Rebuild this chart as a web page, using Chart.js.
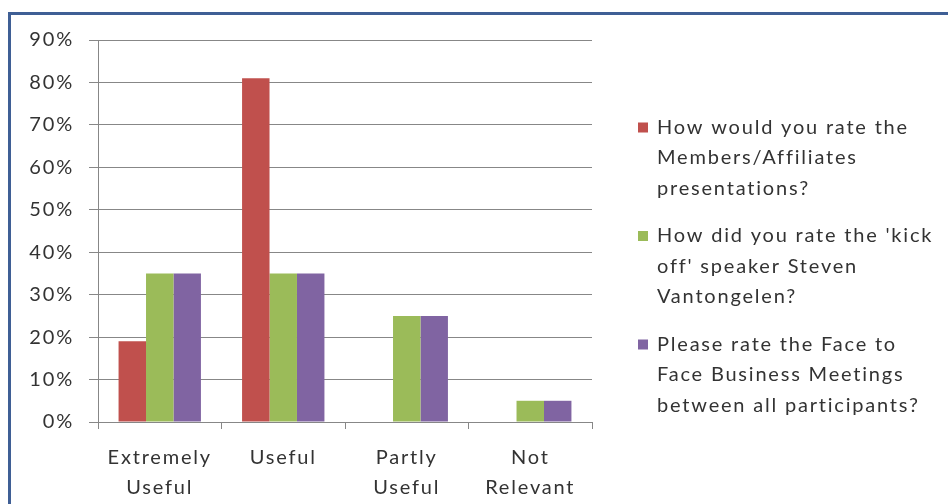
<!DOCTYPE html>
<html>
<head>
<meta charset="utf-8">
<script src="https://cdn.jsdelivr.net/npm/chart.js@4/dist/chart.umd.min.js"></script>
<style>
  html, body { margin: 0; padding: 0; background: #fff; overflow: hidden; }
  #wrap { position: relative; width: 948px; height: 504px; }
  #chart { position: absolute; left: 0; top: 0; }
  #frame {
    position: absolute; left: 8px; top: 12px; width: 2000px; height: 2000px;
    border-top: 3px solid #3F5F95; border-left: 3px solid #3F5F95;
    pointer-events: none;
  }
</style>
</head>
<body>
<div id="wrap">
  <canvas id="chart" width="948" height="504"></canvas>
  <div id="frame"></div>
</div>
<script>
// survey answers, share of respondents in %
const categories = [['Extremely', 'Useful'], 'Useful', ['Partly', 'Useful'], ['Not', 'Relevant']];
const membersValues = [19, 81, 0, 0];
const speakerValues = [35, 35, 25, 5];
const meetingsValues = [35, 35, 25, 5];

const membersLabel = ['How would you rate the', 'Members/Affiliates', 'presentations?'];
const speakerLabel = ["How did you rate the 'kick", "off' speaker Steven", 'Vantongelen?'];
const meetingsLabel = ['Please rate the Face to', 'Face Business Meetings', 'between all participants?'];

const yMin = 0;
const yMax = 90;
const yStep = 10;

const textColor = '#333333';
const lineColor = '#878787';
const fontFamily = 'Lato, "Open Sans", sans-serif';
const spacing = '1.8px';

// wrapped legend on the right side of the plot
const sideLegend = {
    id: 'sideLegend',
    beforeDraw(chart) {
        chart.ctx.letterSpacing = spacing;
    },
    afterDraw(chart) {
        const ctx = chart.ctx;
        const area = chart.chartArea;
        const x = area.right + 46;
        let y = area.top + 87.5;
        ctx.save();
        ctx.letterSpacing = spacing;
        ctx.font = '20px ' + fontFamily;
        ctx.textBaseline = 'middle';
        ctx.textAlign = 'left';
        chart.data.datasets.forEach(ds => {
            ctx.fillStyle = ds.backgroundColor;
            ctx.fillRect(x, y - 5, 10, 10);
            ctx.fillStyle = textColor;
            ds.lines.forEach((line, j) => {
                ctx.fillText(line, x + 19, y + j * 30.5);
            });
            y += 108.5;
        });
        ctx.restore();
    }
};

const ctx = document.getElementById('chart').getContext('2d');
new Chart(ctx, {
    type: 'bar',
    data: {
        labels: categories,
        datasets: [{
            label: membersLabel.join(' '),
            lines: membersLabel,
            data: membersValues,
            backgroundColor: '#C0504D'
        },
        {
            label: speakerLabel.join(' '),
            lines: speakerLabel,
            data: speakerValues,
            backgroundColor: '#9BBB59'
        },
        {
            label: meetingsLabel.join(' '),
            lines: meetingsLabel,
            data: meetingsValues,
            backgroundColor: '#8064A2'
        }]
    },
    options: {
        responsive: false,
        animation: false,
        devicePixelRatio: 1,
        layout: {
            padding: { left: 0, top: 40, right: 356, bottom: 0 }
        },
        datasets: {
            bar: {
                barPercentage: 1,
                categoryPercentage: 0.667,
                borderWidth: 0
            }
        },
        plugins: {
            legend: { display: false },
            tooltip: { enabled: false }
        },
        scales: {
            x: {
                afterFit: scale => { scale.height = 82; },
                grid: {
                    display: true,
                    drawOnChartArea: false,
                    drawTicks: true,
                    tickLength: 7,
                    offset: true,
                    color: lineColor
                },
                border: { color: lineColor },
                ticks: {
                    color: textColor,
                    padding: 14,
                    maxRotation: 0,
                    font: { family: fontFamily, size: 20, lineHeight: '30px' }
                }
            },
            y: {
                min: yMin,
                max: yMax,
                afterFit: scale => { scale.width = 98; },
                grid: {
                    color: lineColor,
                    tickLength: 9
                },
                border: { color: lineColor },
                ticks: {
                    stepSize: yStep,
                    color: textColor,
                    padding: 15,
                    font: { family: fontFamily, size: 20 },
                    callback: v => v + '%'
                }
            }
        }
    },
    plugins: [sideLegend]
});
</script>
</body>
</html>
